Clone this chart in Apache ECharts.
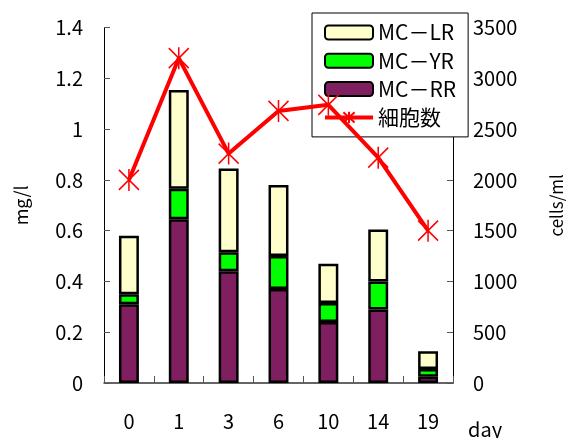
<!DOCTYPE html>
<html>
<head>
<meta charset="utf-8">
<script src="https://cdn.jsdelivr.net/npm/echarts@6/dist/echarts.min.js"></script>
<style>
  html, body { margin: 0; padding: 0; background: #fff; }
  #chart { width: 573px; height: 438px; }
</style>
</head>
<body>
<div id="chart"></div>
<script>
// Sampling days
const days = ['0', '1', '3', '6', '10', '14', '19'];

// Microcystin variants (mg/l), stacked bottom to top: RR, YR, LR
const mcRR = [0.31, 0.645, 0.44, 0.37, 0.24, 0.29, 0.025];
const mcYR = [0.04, 0.12, 0.075, 0.13, 0.075, 0.11, 0.03];
const mcLR = [0.23, 0.39, 0.33, 0.28, 0.155, 0.205, 0.07];

// Cell density (cells/ml)
const cells = [2000, 3200, 2260, 2680, 2740, 2220, 1500];

// Axis tick settings
const leftMax = 1.4, leftStep = 0.2;
const rightMax = 3500, rightStep = 500;

const FONT = '"Noto Sans CJK JP", "Noto Sans", sans-serif';
const starPath = 'path://M-10,-10L10,10M-10,10L10,-10M0,-11L0,11';

const chart = echarts.init(document.getElementById('chart'), null, { renderer: 'canvas' });

const barBase = {
  type: 'bar',
  stack: 'mc',
  barWidth: '40%',
  yAxisIndex: 0,
  z: 2
};

chart.setOption({
  animation: false,
  backgroundColor: '#ffffff',
  textStyle: { fontFamily: FONT },
  grid: { left: 104, right: 107, top: 27.7, bottom: 55, containLabel: false },
  legend: {
    data: [
      { name: 'MC－LR' },
      { name: 'MC－YR' },
      { name: 'MC－RR' },
      { name: '細胞数', lineStyle: { width: 4 } }
    ],
    orient: 'vertical',
    left: 312,
    top: 13,
    padding: [7, 12, 7, 11],
    itemWidth: 48,
    itemHeight: 14,
    itemGap: 3.3,
    backgroundColor: '#ffffff',
    borderColor: '#000000',
    borderWidth: 1,
    z: 1,
    textStyle: { fontSize: 21, color: '#000', fontFamily: FONT, lineHeight: 25 }
  },
  xAxis: {
    type: 'category',
    data: days,
    axisLine: { lineStyle: { color: '#333', width: 1.5 } },
    axisTick: { show: true, inside: true, length: 7, interval: 0, lineStyle: { color: '#555', width: 1 } },
    axisLabel: { fontSize: 20, color: '#000', margin: 28, fontFamily: FONT }
  },
  yAxis: [
    {
      type: 'value',
      min: 0, max: leftMax, interval: leftStep,
      position: 'left',
      name: 'mg/l',
      nameLocation: 'middle',
      nameGap: 74,
      nameRotate: 90,
      nameTextStyle: { fontSize: 18, color: '#000', fontFamily: FONT },
      axisLine: { show: true, lineStyle: { color: '#000', width: 1 } },
      axisTick: { show: true, inside: true, length: 6, lineStyle: { color: '#555' } },
      axisLabel: { fontSize: 20, color: '#000', margin: 21, fontFamily: FONT,
        formatter: v => (Math.round(v * 10) / 10).toString() },
      splitLine: { show: false }
    },
    {
      type: 'value',
      min: 0, max: rightMax, interval: rightStep,
      position: 'right',
      name: 'cells/ml',
      nameLocation: 'middle',
      nameGap: 95,
      nameRotate: 90,
      nameTextStyle: { fontSize: 17, color: '#000', fontFamily: FONT },
      axisLine: { show: true, lineStyle: { color: '#000', width: 1 } },
      axisTick: { show: true, inside: true, length: 6, lineStyle: { color: '#555' } },
      axisLabel: { fontSize: 20, color: '#000', margin: 20, fontFamily: FONT,
        formatter: v => String(v) },
      splitLine: { show: false }
    }
  ],
  graphic: [
    {
      type: 'text',
      left: 468,
      top: 419,
      style: { text: 'day', font: '20px ' + FONT, fill: '#000' }
    }
  ],
  series: [
    Object.assign({}, barBase, {
      name: 'MC－RR',
      data: mcRR,
      itemStyle: { color: '#7F1F5F', borderColor: '#000', borderWidth: 2.5 }
    }),
    Object.assign({}, barBase, {
      name: 'MC－YR',
      data: mcYR,
      itemStyle: { color: '#00FF00', borderColor: '#000', borderWidth: 2.5 }
    }),
    Object.assign({}, barBase, {
      name: 'MC－LR',
      data: mcLR,
      itemStyle: { color: '#FFFFCC', borderColor: '#000', borderWidth: 2.5 }
    }),
    {
      name: '細胞数',
      type: 'line',
      yAxisIndex: 1,
      data: cells,
      z: 10,
      symbol: starPath,
      symbolSize: [20, 22],
      lineStyle: { color: '#FF0000', width: 4 },
      itemStyle: { color: '#FF0000', borderColor: '#FF0000', borderWidth: 1.6 }
    }
  ]
});
</script>
</body>
</html>
